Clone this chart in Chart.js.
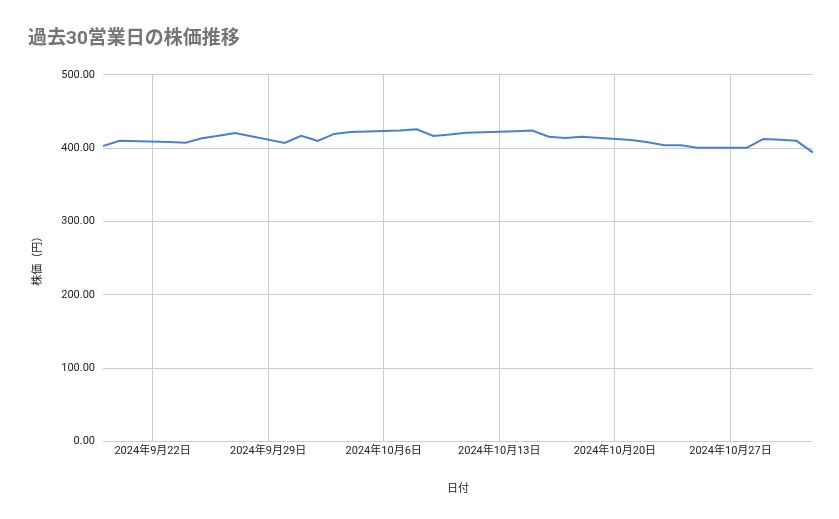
<!DOCTYPE html><html><head><meta charset="utf-8">
<script src="https://cdn.jsdelivr.net/npm/chart.js@4"></script>
<style>body{margin:0;background:#fff}#w{width:839px;height:519px}</style></head><body><div id="w"><canvas id="c"></canvas></div>
<script>
const dates=["9/19","9/20","9/23","9/24","9/25","9/26","9/27","9/30","10/1","10/2","10/3","10/4","10/7","10/8","10/9","10/10","10/11","10/14","10/15","10/16","10/17","10/18","10/21","10/22","10/23","10/24","10/25","10/28","10/29","10/30","10/31","11/1"];
const prices=[403,410,408.5,407.5,413.5,417,420.8,407,416.7,410,419.4,422,424,425.8,416.7,418.5,421,423,424,415.7,414,415.7,411,408,404,404,400.7,400.7,412.6,411.5,410,394];
const yTicks=[0,100,200,300,400,500];
const base=new Date(2024,8,19);
function dayOf(s){const [m,d]=s.split('/').map(Number);return Math.round((new Date(2024,m-1,d)-base)/864e5);}
function lab(n){const t=new Date(base.getTime()+n*864e5);return `2024年${t.getMonth()+1}月${t.getDate()}日`;}
const pts=dates.map((d,i)=>({x:dayOf(d),y:prices[i]}));
const F="Roboto, 'Noto Sans CJK JP', sans-serif";
new Chart(document.getElementById('c'),{type:'line',
data:{datasets:[{data:pts,borderColor:'#4a7fd4',borderWidth:2,pointRadius:0,tension:0}]},
options:{responsive:true,maintainAspectRatio:false,animation:false,
layout:{padding:{left:28,right:26,top:12,bottom:19}},
plugins:{legend:{display:false},title:{display:true,text:'過去30営業日の株価推移',align:'start',color:'#757575',font:{family:F,size:19,weight:'bold'},padding:{top:16,bottom:24}}},
scales:{
x:{type:'linear',min:0,max:43,afterBuildTicks:a=>{a.ticks=[3,10,17,24,31,38].map(v=>({value:v}));},
 ticks:{callback:v=>lab(v),color:'#222',font:{family:F,size:11},maxRotation:0,autoSkip:false},
 grid:{color:'#ccc',drawTicks:false},border:{display:false},
 title:{display:true,text:'日付',color:'#222',font:{family:F,size:11},padding:{top:22}}},
y:{min:0,max:500,afterBuildTicks:a=>{a.ticks=yTicks.map(v=>({value:v}));},
 ticks:{callback:v=>v.toFixed(2),color:'#222',font:{family:F,size:11},padding:8},
 grid:{color:'#ccc',drawTicks:false},border:{display:false},
 title:{display:true,text:'株価（円）',color:'#222',font:{family:F,size:11},padding:{bottom:8}}}}}});
</script></body></html>
